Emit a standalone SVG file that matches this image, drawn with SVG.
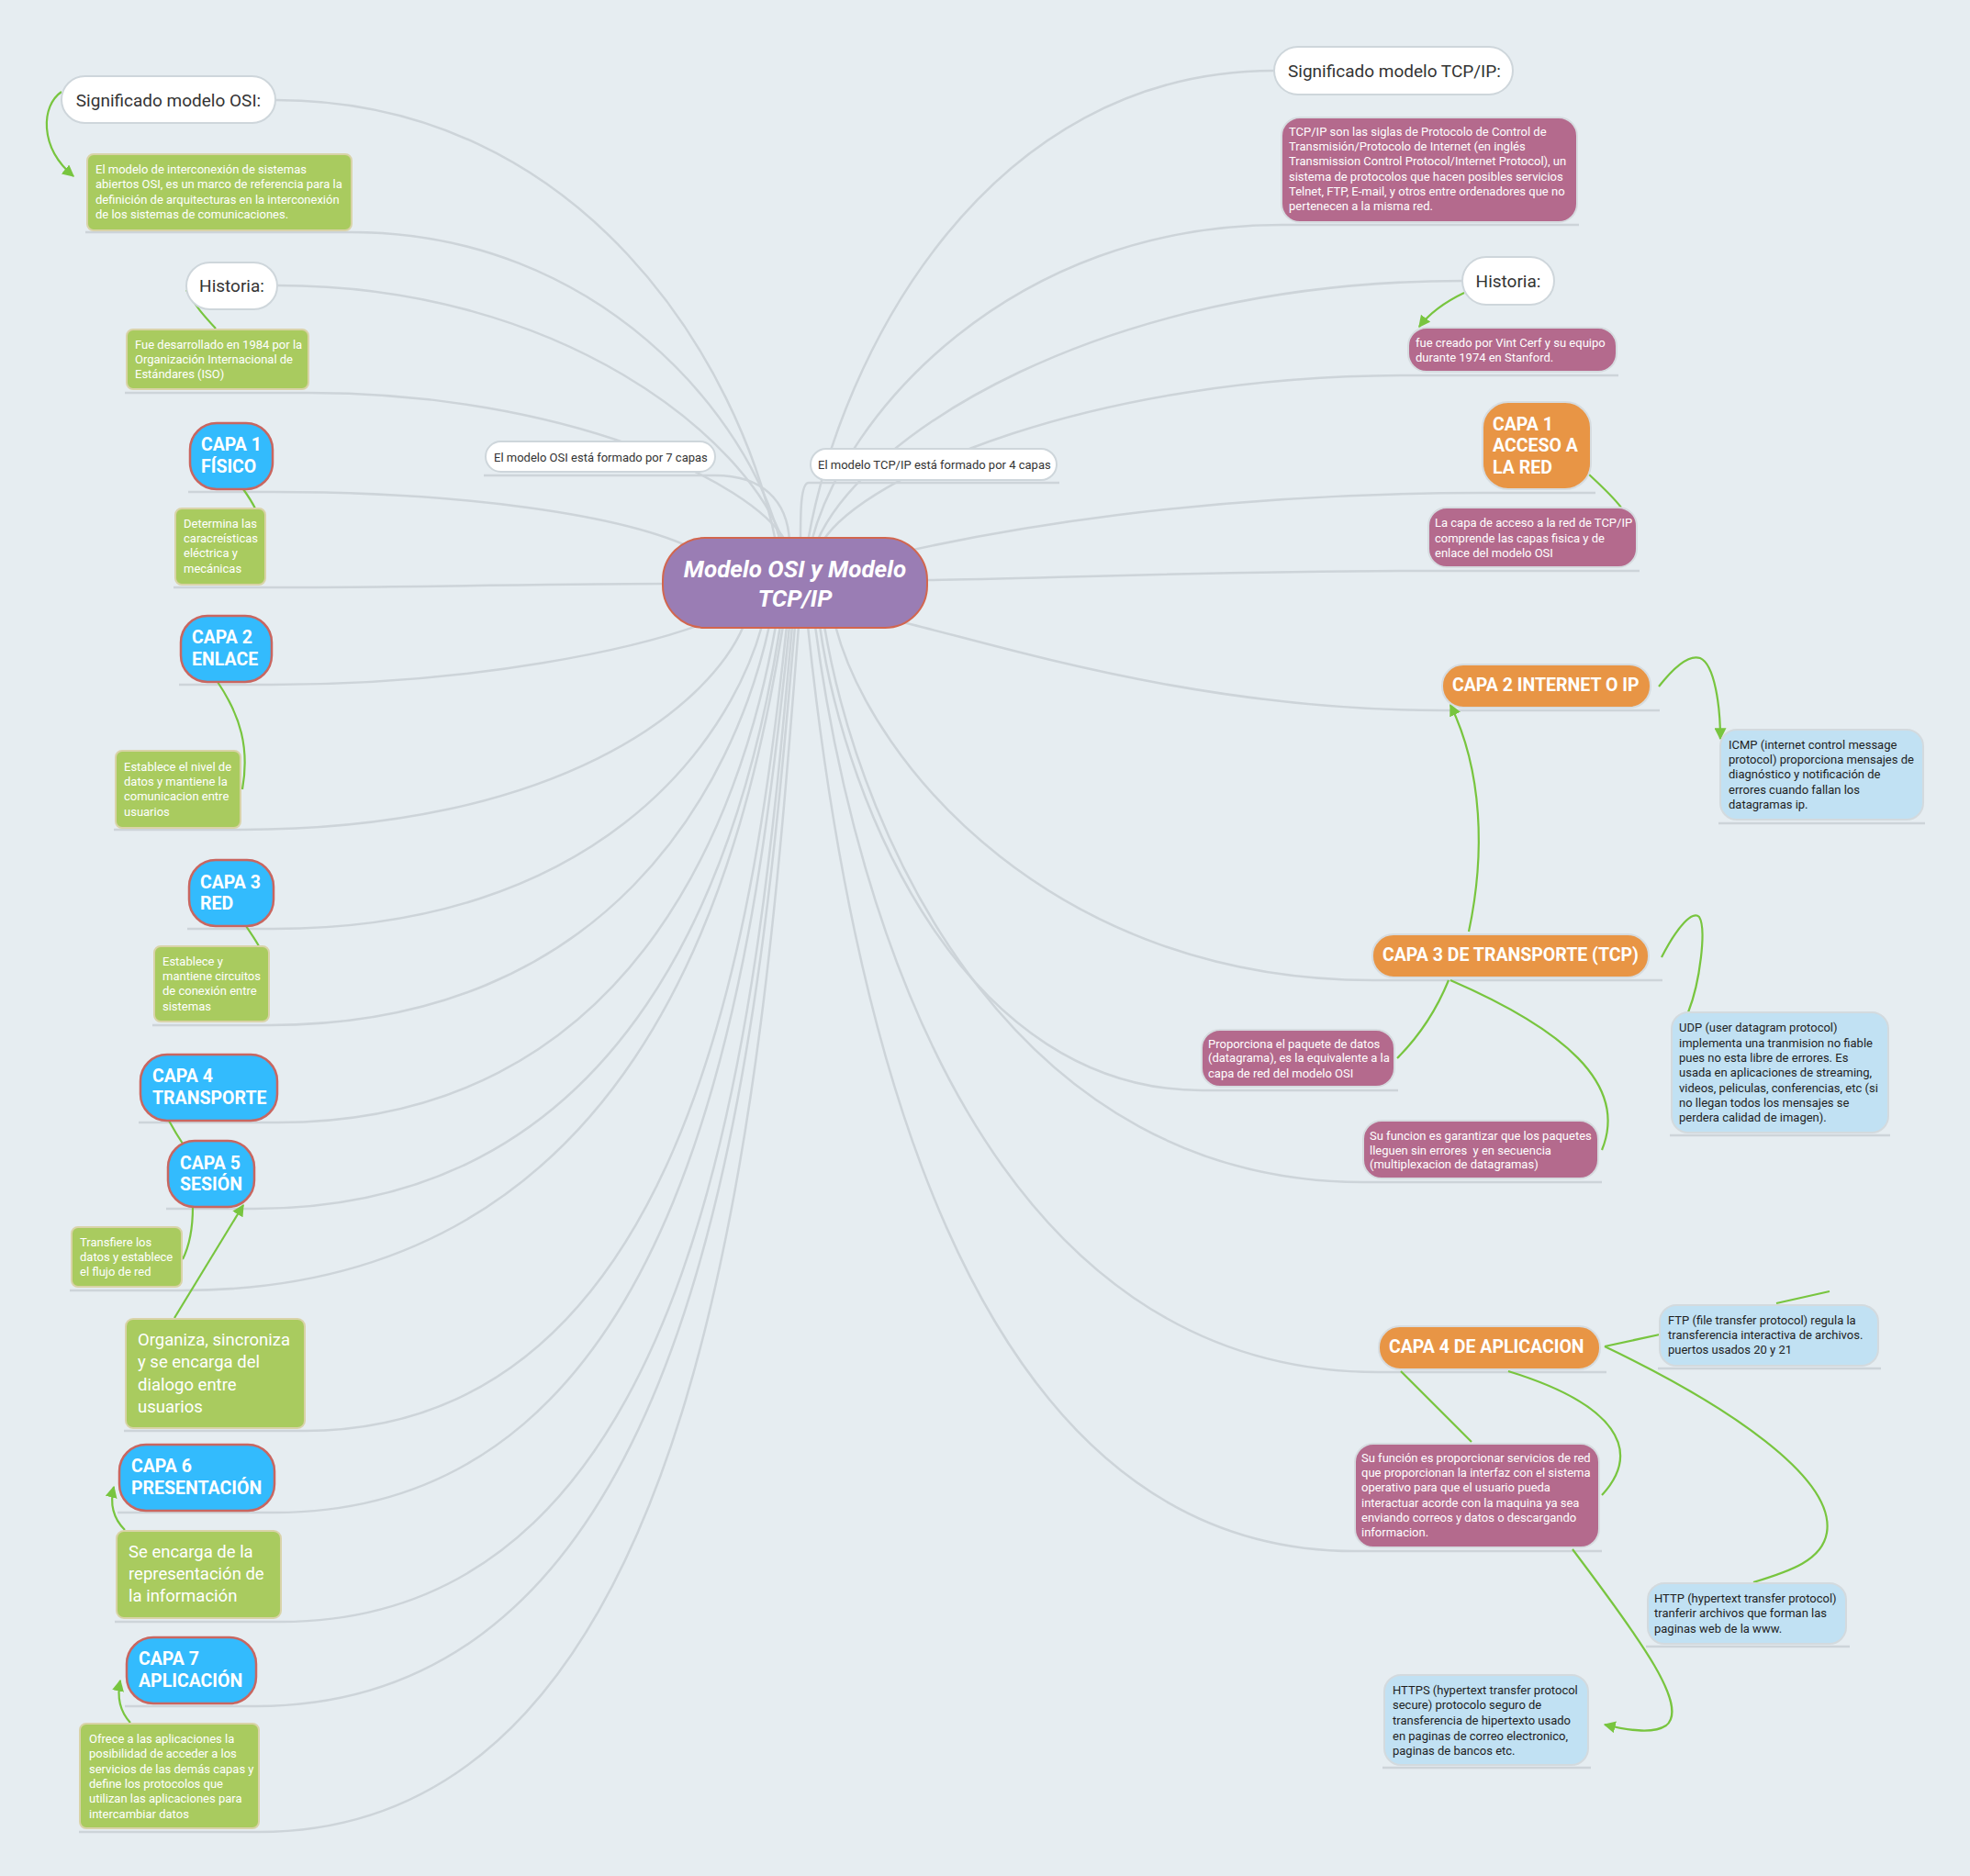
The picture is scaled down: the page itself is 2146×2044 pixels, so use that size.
<svg xmlns="http://www.w3.org/2000/svg" width="2146" height="2044" viewBox="0 0 2146 2044">
<style>
.bg{fill:#E6EDF1}
.con{fill:none;stroke:#CDD4D9;stroke-width:2.5}
.gc{fill:none;stroke:#78C53F;stroke-width:2.2}
.pill{fill:#FFFFFF;stroke:#CED6DB;stroke-width:2}
.green{fill:#A9CB5F;stroke:#D9D3A8;stroke-width:2}
.blue{fill:#33BBFD;stroke:#C96660;stroke-width:2.5}
.orange{fill:#E89545;stroke:#D6DCE0;stroke-width:2}
.mauve{fill:#B46A8D;stroke:#D6DCE0;stroke-width:2}
.lblue{fill:#C1E1F3;stroke:#D3DADE;stroke-width:2}
.center{fill:#9A7DB4;stroke:#D2664E;stroke-width:2}
text{font-family:Roboto,"Liberation Sans",sans-serif;dominant-baseline:central}
.s{font-size:13px;fill:#FFFFFF}
.sd{font-size:13px;fill:#1E1E1E}
.m{font-size:18.5px;fill:#FFFFFF}
.p{font-size:19px;fill:#333333}
.ps{font-size:13px;fill:#333333}
.b{font-size:19.5px;font-weight:bold;fill:#FFFFFF}
.c{font-size:26px;font-weight:bold;font-style:italic;fill:#FFFFFF}
</style>
<defs>
<marker id="arrow" viewBox="0 0 10 10" refX="9" refY="5" markerWidth="13" markerHeight="13" markerUnits="userSpaceOnUse" orient="auto">
<path d="M0,0 L10,5 L0,10 z" fill="#78C53F"/>
</marker>
</defs>
<rect class="bg" x="0" y="0" width="2146" height="2044"/>

<g id="connectors">
<path class="con" d="M300,109 C635,109 807,398 845,590"/>
<path class="con" d="M93,253 H383 C652,253 817,455 850,590"/>
<path class="con" d="M302,311 C612,311 814,478 853,590"/>
<path class="con" d="M136,428 H336 C615,428 820,525 856,590"/>
<path class="con" d="M527,518 H779 C830,518 858,545 860,590"/>
<path class="con" d="M205,536 H297 C500,536 680,560 760,600"/>
<path class="con" d="M189,640 H289 C450,640 600,636 730,636"/>
<path class="con" d="M195,746 H296 C520,746 700,706 775,676"/>
<path class="con" d="M124,904 H262 C607,904 772,771 810,682"/>
<path class="con" d="M204,1012 H298 C646,1012 793,814 830,682"/>
<path class="con" d="M166,1117 H293 C663,1117 800,856 838,682"/>
<path class="con" d="M151,1223 H302 C684,1223 807,898 845,682"/>
<path class="con" d="M181,1317 H277 C692,1317 810,936 850,682"/>
<path class="con" d="M76,1406 H198 C686,1406 807,972 853,682"/>
<path class="con" d="M135,1559 H331 C741,1559 820,1033 857,682"/>
<path class="con" d="M128,1648 H299 C748,1648 821,1068 860,682"/>
<path class="con" d="M125,1767 H306 C767,1767 824,1116 863,682"/>
<path class="con" d="M136,1859 H279 C766,1859 825,1153 866,682"/>
<path class="con" d="M86,1996 H282 C770,1996 829,1208 870,682"/>
<path class="con" d="M1388,77 C1075,77 916,385 880,590"/>
<path class="con" d="M1720,245 H1396 C1100,245 920,452 884,590"/>
<path class="con" d="M1593,306 C1196,306 939,476 890,590"/>
<path class="con" d="M1763,409 H1534 C1189,409 941,518 896,590"/>
<path class="con" d="M1154,526 H881 C872,526 872,560 872,590"/>
<path class="con" d="M1738,537 H1615 C1300,537 1080,580 990,600"/>
<path class="con" d="M1786,622 H1556 C1300,622 1100,632 1008,632"/>
<path class="con" d="M1808,774 H1571 C1300,774 1080,700 975,676"/>
<path class="con" d="M1811,1068 H1495 C1151,1068 951,836 910,682"/>
<path class="con" d="M1523,1188 H1309 C1053,1188 922,884 893,682"/>
<path class="con" d="M1745,1288 H1485 C1110,1288 939,924 898,682"/>
<path class="con" d="M1750,1495 H1502 C1081,1495 931,1007 888,682"/>
<path class="con" d="M1745,1690 H1476 C1042,1690 922,1085 880,682"/>
<path class="con" d="M1872,897 H2097"/>
<path class="con" d="M1819,1237 H2059"/>
<path class="con" d="M1806,1491 H2049"/>
<path class="con" d="M1793,1794 H2015"/>
<path class="con" d="M1506,1926 H1733"/>
<path class="gc" d="M67,100 C45,115 42,160 80,192" marker-end="url(#arrow)"/>
<path class="gc" d="M203,316 C212,333 224,346 235,358"/>
<path class="gc" d="M265,533 C270,540 275,548 278,554"/>
<path class="gc" d="M237,743 C262,780 272,815 264,860"/>
<path class="gc" d="M268,1009 C274,1018 279,1025 282,1031"/>
<path class="gc" d="M184,1221 C190,1232 195,1240 199,1246"/>
<path class="gc" d="M210,1315 C210,1340 205,1360 199,1372"/>
<path class="gc" d="M190,1436 L265,1313" marker-end="url(#arrow)"/>
<path class="gc" d="M136,1667 C124,1655 119,1640 124,1620" marker-end="url(#arrow)"/>
<path class="gc" d="M142,1877 C131,1865 127,1850 131,1831" marker-end="url(#arrow)"/>
<path class="gc" d="M1595,319 C1572,330 1556,343 1546,356" marker-end="url(#arrow)"/>
<path class="gc" d="M1731,517 C1745,530 1758,542 1766,553"/>
<path class="gc" d="M1807,748 C1825,725 1840,713 1852,717 C1868,724 1874,770 1874,805" marker-end="url(#arrow)"/>
<path class="gc" d="M1600,1015 C1618,930 1615,840 1580,768" marker-end="url(#arrow)"/>
<path class="gc" d="M1810,1043 C1828,1008 1844,992 1851,999 C1859,1012 1852,1070 1839,1103"/>
<path class="gc" d="M1578,1068 C1565,1100 1545,1130 1522,1153"/>
<path class="gc" d="M1580,1068 C1700,1120 1775,1180 1745,1253"/>
<path class="gc" d="M1748,1467 L1808,1454"/>
<path class="gc" d="M1935,1420 L1993,1407"/>
<path class="gc" d="M1748,1467 C1880,1530 2000,1610 1990,1670 C1985,1700 1950,1712 1910,1724"/>
<path class="gc" d="M1526,1494 L1603,1571"/>
<path class="gc" d="M1643,1494 C1760,1530 1790,1580 1745,1629"/>
<path class="gc" d="M1713,1688 C1790,1790 1840,1860 1815,1880 C1800,1890 1772,1885 1748,1879" marker-end="url(#arrow)"/>
</g>

<g id="central">
<rect class="center" x="722" y="586" width="288" height="98" rx="46"/>
<text class="c" x="866" y="620" text-anchor="middle">Modelo OSI y Modelo</text>
<text class="c" x="866" y="652" text-anchor="middle">TCP/IP</text>
</g>

<g id="sig-osi">
<rect class="pill" x="67" y="83" width="233" height="51" rx="25.5"/>
<text class="p" x="183.5" y="109" text-anchor="middle">Significado modelo OSI:</text>
</g>
<g id="sig-osi-text">
<rect class="green" x="95" y="168" width="288" height="83" rx="7"/>
<text class="s" x="104" y="184">El modelo de interconexión de sistemas</text>
<text class="s" x="104" y="200">abiertos OSI, es un marco de referencia para la</text>
<text class="s" x="104" y="217">definición de arquitecturas en la interconexión</text>
<text class="s" x="104" y="233">de los sistemas de comunicaciones.</text>
</g>
<g id="hist-osi">
<rect class="pill" x="203" y="286" width="99" height="51" rx="25.5"/>
<text class="p" x="252.5" y="311" text-anchor="middle">Historia:</text>
</g>
<g id="hist-osi-text">
<rect class="green" x="138" y="359" width="198" height="65" rx="7"/>
<text class="s" x="147" y="375">Fue desarrollado en 1984 por la</text>
<text class="s" x="147" y="391">Organización Internacional de</text>
<text class="s" x="147" y="407">Estándares (ISO)</text>
</g>
<g id="osi-7">
<rect class="pill" x="529" y="481" width="250" height="33" rx="16.5"/>
<text class="ps" x="538" y="498">El modelo OSI está formado por 7 capas</text>
</g>
<g id="capa1">
<rect class="blue" x="207" y="461" width="90" height="72" rx="29"/>
<text class="b" x="219" y="484">CAPA 1</text>
<text class="b" x="219" y="508">FÍSICO</text>
</g>
<g id="capa1-text">
<rect class="green" x="191" y="554" width="98" height="83" rx="7"/>
<text class="s" x="200" y="570">Determina las</text>
<text class="s" x="200" y="586">caracreísticas</text>
<text class="s" x="200" y="602">eléctrica y</text>
<text class="s" x="200" y="619">mecánicas</text>
</g>
<g id="capa2">
<rect class="blue" x="197" y="671" width="99" height="72" rx="29"/>
<text class="b" x="209" y="694">CAPA 2</text>
<text class="b" x="209" y="718">ENLACE</text>
</g>
<g id="capa2-text">
<rect class="green" x="126" y="818" width="136" height="84" rx="7"/>
<text class="s" x="135" y="835">Establece el nivel de</text>
<text class="s" x="135" y="851">datos y mantiene la</text>
<text class="s" x="135" y="867">comunicacion entre</text>
<text class="s" x="135" y="884">usuarios</text>
</g>
<g id="capa3">
<rect class="blue" x="206" y="937" width="92" height="72" rx="29"/>
<text class="b" x="218" y="961">CAPA 3</text>
<text class="b" x="218" y="984">RED</text>
</g>
<g id="capa3-text">
<rect class="green" x="168" y="1031" width="125" height="82" rx="7"/>
<text class="s" x="177" y="1047">Establece y</text>
<text class="s" x="177" y="1063">mantiene circuitos</text>
<text class="s" x="177" y="1079">de conexión entre</text>
<text class="s" x="177" y="1096">sistemas</text>
</g>
<g id="capa4">
<rect class="blue" x="153" y="1149" width="149" height="72" rx="29"/>
<text class="b" x="166" y="1172">CAPA 4</text>
<text class="b" x="166" y="1196">TRANSPORTE</text>
</g>
<g id="capa5">
<rect class="blue" x="183" y="1243" width="94" height="72" rx="29"/>
<text class="b" x="196" y="1267">CAPA 5</text>
<text class="b" x="196" y="1290">SESIÓN</text>
</g>
<g id="capa5-text">
<rect class="green" x="78" y="1337" width="120" height="65" rx="7"/>
<text class="s" x="87" y="1353">Transfiere los</text>
<text class="s" x="87" y="1369">datos y establece</text>
<text class="s" x="87" y="1385">el flujo de red</text>
</g>
<g id="capa5-text2">
<rect class="green" x="137" y="1437" width="195" height="119" rx="8"/>
<text class="m" x="150" y="1460">Organiza, sincroniza</text>
<text class="m" x="150" y="1484">y se encarga del</text>
<text class="m" x="150" y="1509">dialogo entre</text>
<text class="m" x="150" y="1533">usuarios</text>
</g>
<g id="capa6">
<rect class="blue" x="130" y="1574" width="169" height="72" rx="29"/>
<text class="b" x="143" y="1597">CAPA 6</text>
<text class="b" x="143" y="1621">PRESENTACIÓN</text>
</g>
<g id="capa6-text">
<rect class="green" x="127" y="1668" width="179" height="95" rx="8"/>
<text class="m" x="140" y="1691">Se encarga de la</text>
<text class="m" x="140" y="1715">representación de</text>
<text class="m" x="140" y="1739">la información</text>
</g>
<g id="capa7">
<rect class="blue" x="138" y="1784" width="141" height="72" rx="29"/>
<text class="b" x="151" y="1807">CAPA 7</text>
<text class="b" x="151" y="1831">APLICACIÓN</text>
</g>
<g id="capa7-text">
<rect class="green" x="87" y="1878" width="195" height="114" rx="7"/>
<text class="s" x="97" y="1894">Ofrece a las aplicaciones la</text>
<text class="s" x="97" y="1910">posibilidad de acceder a los</text>
<text class="s" x="97" y="1927">servicios de las demás capas y</text>
<text class="s" x="97" y="1943">define los protocolos que</text>
<text class="s" x="97" y="1959">utilizan las aplicaciones para</text>
<text class="s" x="97" y="1976">intercambiar datos</text>
</g>

<g id="sig-tcp">
<rect class="pill" x="1388" y="51" width="260" height="52" rx="26"/>
<text class="p" x="1403" y="77">Significado modelo TCP/IP:</text>
</g>
<g id="sig-tcp-text">
<rect class="mauve" x="1396" y="128" width="322" height="114" rx="20"/>
<text class="s" x="1404" y="143">TCP/IP son las siglas de Protocolo de Control de</text>
<text class="s" x="1404" y="159">Transmisión/Protocolo de Internet (en inglés</text>
<text class="s" x="1404" y="175">Transmission Control Protocol/Internet Protocol), un</text>
<text class="s" x="1404" y="192">sistema de protocolos que hacen posibles servicios</text>
<text class="s" x="1404" y="208">Telnet, FTP, E-mail, y otros entre ordenadores que no</text>
<text class="s" x="1404" y="224">pertenecen a la misma red.</text>
</g>
<g id="hist-tcp">
<rect class="pill" x="1593" y="280" width="100" height="52" rx="26"/>
<text class="p" x="1643" y="306" text-anchor="middle">Historia:</text>
</g>
<g id="hist-tcp-text">
<rect class="mauve" x="1534" y="357" width="227" height="48" rx="20"/>
<text class="s" x="1542" y="373">fue creado por Vint Cerf y su equipo</text>
<text class="s" x="1542" y="389">durante 1974 en Stanford.</text>
</g>
<g id="tcp-4">
<rect class="pill" x="883" y="489" width="268" height="34" rx="17"/>
<text class="ps" x="891" y="506">El modelo TCP/IP está formado por 4 capas</text>
</g>
<g id="tcp-capa1">
<rect class="orange" x="1615" y="438" width="118" height="95" rx="28"/>
<text class="b" x="1626" y="462">CAPA 1</text>
<text class="b" x="1626" y="485">ACCESO A</text>
<text class="b" x="1626" y="509">LA RED</text>
</g>
<g id="tcp-capa1-text">
<rect class="mauve" x="1556" y="553" width="227" height="65" rx="20"/>
<text class="s" x="1563" y="569">La capa de acceso a la red de TCP/IP</text>
<text class="s" x="1563" y="586">comprende las capas fisica y de</text>
<text class="s" x="1563" y="602">enlace del modelo OSI</text>
</g>
<g id="tcp-capa2">
<rect class="orange" x="1571" y="724" width="227" height="47" rx="23"/>
<text class="b" x="1582" y="746">CAPA 2 INTERNET O IP</text>
</g>
<g id="icmp">
<rect class="lblue" x="1874" y="795" width="221" height="98" rx="18"/>
<text class="sd" x="1883" y="811">ICMP (internet control message</text>
<text class="sd" x="1883" y="827">protocol) proporciona mensajes de</text>
<text class="sd" x="1883" y="843">diagnóstico y notificación de</text>
<text class="sd" x="1883" y="860">errores cuando fallan los</text>
<text class="sd" x="1883" y="876">datagramas ip.</text>
</g>
<g id="tcp-capa3">
<rect class="orange" x="1495" y="1018" width="301" height="47" rx="23"/>
<text class="b" x="1506" y="1040">CAPA 3 DE TRANSPORTE (TCP)</text>
</g>
<g id="udp">
<rect class="lblue" x="1821" y="1103" width="236" height="131" rx="18"/>
<text class="sd" x="1829" y="1119">UDP (user datagram protocol)</text>
<text class="sd" x="1829" y="1136">implementa una tranmision no fiable</text>
<text class="sd" x="1829" y="1152">pues no esta libre de errores. Es</text>
<text class="sd" x="1829" y="1168">usada en aplicaciones de streaming,</text>
<text class="sd" x="1829" y="1185">videos, peliculas, conferencias, etc (si</text>
<text class="sd" x="1829" y="1201">no llegan todos los mensajes se</text>
<text class="sd" x="1829" y="1217">perdera calidad de imagen).</text>
</g>
<g id="tcp-capa3-text1">
<rect class="mauve" x="1309" y="1122" width="210" height="62" rx="20"/>
<text class="s" x="1316" y="1137">Proporciona el paquete de datos</text>
<text class="s" x="1316" y="1152">(datagrama), es la equivalente a la</text>
<text class="s" x="1316" y="1169">capa de red del modelo OSI</text>
</g>
<g id="tcp-capa3-text2">
<rect class="mauve" x="1485" y="1221" width="256" height="63" rx="20"/>
<text class="s" x="1492" y="1237">Su funcion es garantizar que los paquetes</text>
<text class="s" x="1492" y="1253" xml:space="preserve">lleguen sin errores  y en secuencia</text>
<text class="s" x="1492" y="1268">(multiplexacion de datagramas)</text>
</g>
<g id="tcp-capa4">
<rect class="orange" x="1502" y="1445" width="241" height="47" rx="23"/>
<text class="b" x="1513" y="1467">CAPA 4 DE APLICACION</text>
</g>
<g id="ftp">
<rect class="lblue" x="1808" y="1422" width="238" height="66" rx="18"/>
<text class="sd" x="1817" y="1438">FTP (file transfer protocol) regula la</text>
<text class="sd" x="1817" y="1454">transferencia interactiva de archivos.</text>
<text class="sd" x="1817" y="1470">puertos usados 20 y 21</text>
</g>
<g id="tcp-capa4-text">
<rect class="mauve" x="1476" y="1573" width="266" height="113" rx="20"/>
<text class="s" x="1483" y="1588">Su función es proporcionar servicios de red</text>
<text class="s" x="1483" y="1604">que proporcionan la interfaz con el sistema</text>
<text class="s" x="1483" y="1620">operativo para que el usuario pueda</text>
<text class="s" x="1483" y="1637">interactuar acorde con la maquina ya sea</text>
<text class="s" x="1483" y="1653">enviando correos y datos o descargando</text>
<text class="s" x="1483" y="1669">informacion.</text>
</g>
<g id="http">
<rect class="lblue" x="1795" y="1725" width="216" height="66" rx="18"/>
<text class="sd" x="1802" y="1741">HTTP (hypertext transfer protocol)</text>
<text class="sd" x="1802" y="1757">tranferir archivos que forman las</text>
<text class="sd" x="1802" y="1774">paginas web de la www.</text>
</g>
<g id="https">
<rect class="lblue" x="1508" y="1825" width="222" height="98" rx="18"/>
<text class="sd" x="1517" y="1841">HTTPS (hypertext transfer protocol</text>
<text class="sd" x="1517" y="1857">secure) protocolo seguro de</text>
<text class="sd" x="1517" y="1874">transferencia de hipertexto usado</text>
<text class="sd" x="1517" y="1891">en paginas de correo electronico,</text>
<text class="sd" x="1517" y="1907">paginas de bancos etc.</text>
</g>
</svg>
